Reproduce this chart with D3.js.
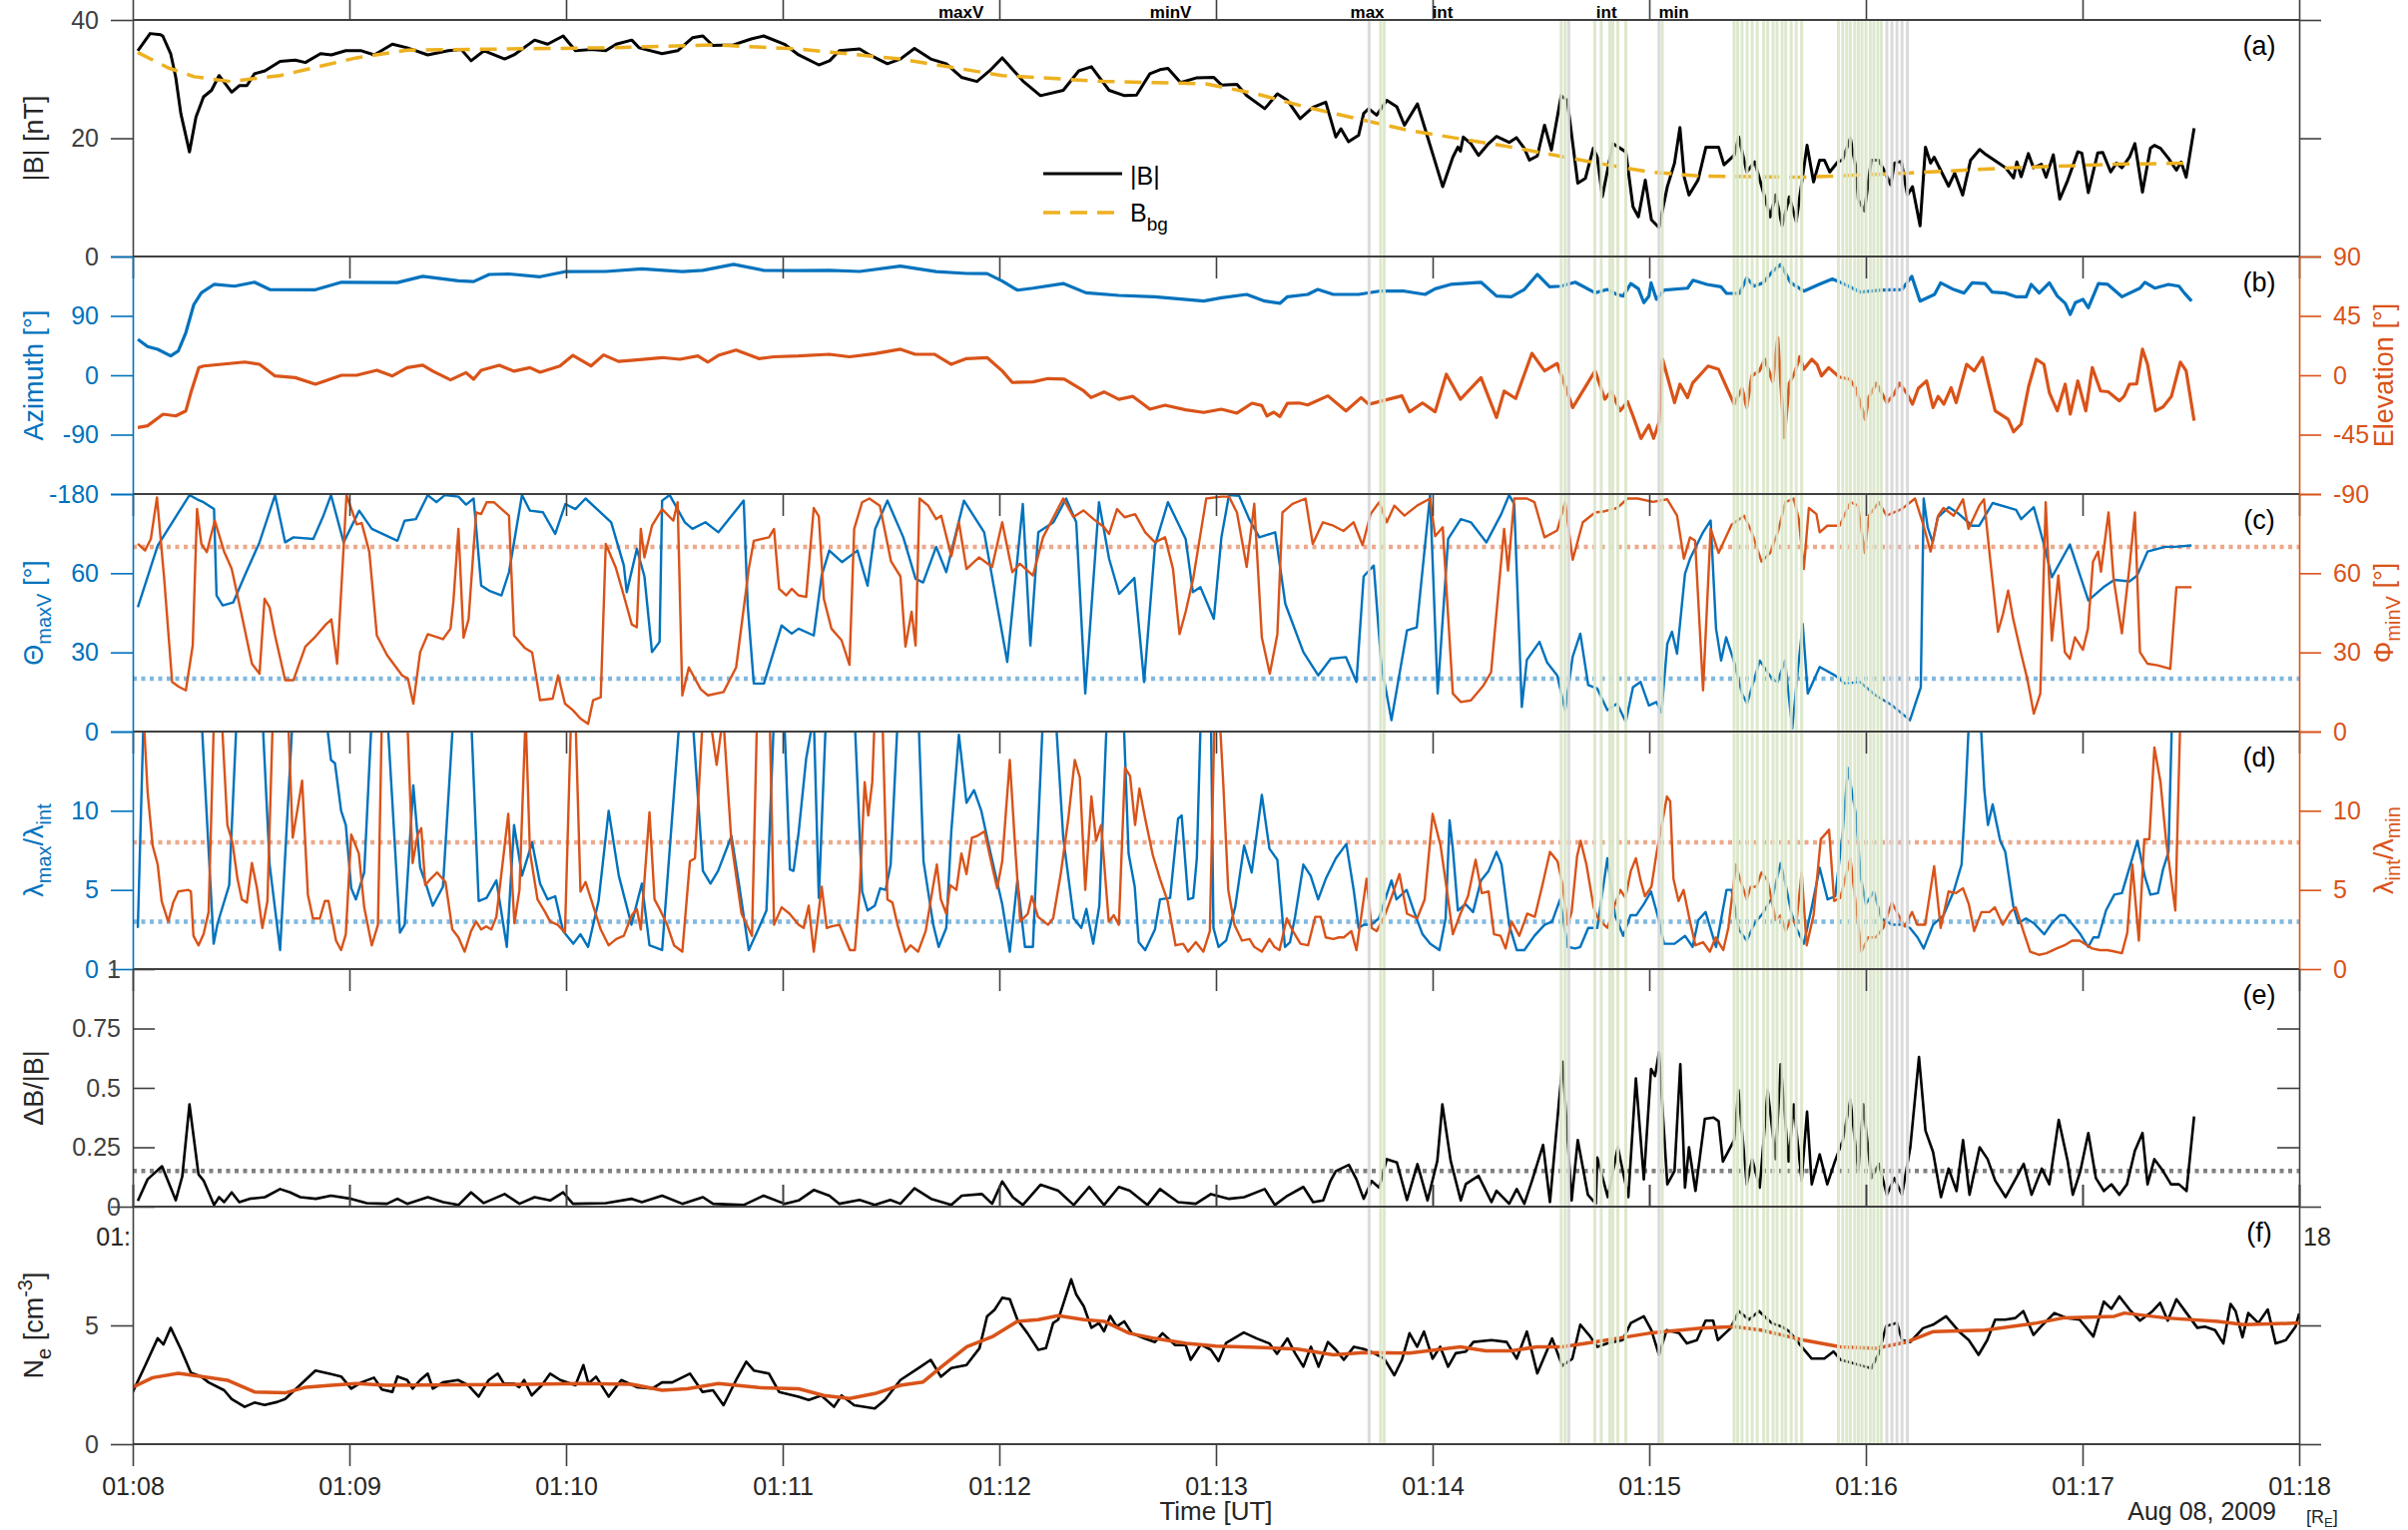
<!DOCTYPE html>
<html>
<head>
<meta charset="utf-8">
<script src="https://cdn.jsdelivr.net/npm/d3@7"></script>
<style>
  body { margin: 0; background: #fff; }
  svg { display: block; }
</style>
</head>
<body>
<div id="chart"></div>
<script>
// ---- data: [seconds after 01:08:00 UT, value] ----
const magB = [[1.4,34.8],[4.8,37.7],[7.7,37.5],[8.3,37.3],[10.5,34.3],[11.9,30.3],[13.3,24.2],[15.7,17.7],[17.5,23.6],[19.6,27],[21.8,28.1],[23.9,30.6],[27.4,27.8],[29.5,28.9],[31.6,28.9],[33.7,30.9],[36.6,31.4],[40.8,33],[45,33.2],[47.8,32.8],[52,34.3],[55,34.1],[59,34.8],[63.3,34.8],[66.9,34.1],[71.9,35.9],[76,35.3],[81.7,34.1],[87.4,34.8],[91,35],[93.7,33.1],[97.3,34.8],[103,33.4],[105.6,34.1],[111.3,36.6],[114.9,35.9],[119.2,37.3],[122.6,34.8],[127,35],[131,34.8],[133.9,35.9],[138.2,36.6],[140.2,35.3],[146.6,34.3],[150.9,34.8],[155,37],[157.9,37.3],[160.6,35.7],[166.4,35.8],[171.3,36.8],[174.7,37.3],[180.5,35.9],[184.4,34.1],[190,32.4],[193,33.1],[195.7,34.8],[201.3,35.1],[204,34.1],[209,32.6],[212.6,33.4],[216.5,35.2],[221,33.4],[225.3,32.6],[229.5,30.3],[233.8,29.6],[237.3,31.4],[240.8,33.6],[246.5,29.7],[251.4,27.2],[257.7,28.1],[262,31.4],[265.5,32.1],[270.4,28.1],[274.7,27.2],[278,27.3],[281.7,30.9],[284.5,31.6],[286.7,31.8],[290.2,29.4],[294.5,30.2],[299.4,30.3],[301.5,29],[305.8,29.1],[308.5,27.2],[313.5,25],[317,27.5],[319.8,26.4],[323.3,23.3],[326.8,25.2],[330.4,26.1],[333.2,20.2],[334.6,21.6],[336.7,19.4],[339.5,20.5],[340.9,24.2],[342.3,25],[344.5,23.9],[347.3,26.4],[350.1,25.3],[352.2,22.2],[355.8,25.8],[357.9,21.6],[360,17.4],[362.8,11.8],[365.6,16.8],[367,18.5],[367.7,17.8],[368.5,20.2],[370.6,19.1],[372.7,17.1],[375.5,19.1],[377.7,20.3],[381.2,19.3],[383.2,20.1],[385.4,18.3],[386.8,16.3],[389,17],[391,22.2],[392.9,18],[395.6,27.2],[397.3,26.4],[400.2,12.4],[402.3,13.2],[404.5,18.3],[405.6,16.8],[407,10.1],[409.9,19.1],[413.5,17.7],[415.5,8.4],[417,6.7],[418.9,12.9],[420.6,6.2],[422.7,4.9],[425,11.8],[427,15.8],[428.5,21.8],[429.7,13.4],[431,10.4],[433.5,12.9],[435.7,18.5],[439.2,18.5],[440.7,15.5],[443.5,17.1],[444.8,20.2],[447,14.3],[449.2,16],[451.4,11.3],[453.5,6.7],[455,10.4],[456.8,5.2],[458.8,10.1],[460.7,5.9],[463.7,18.8],[465.5,12.6],[467.2,16.3],[468.5,16.3],[470,14.3],[472.2,16],[473.5,16.3],[475.7,20],[477.2,15.1],[477.9,9.6],[479.6,7.7],[481.5,16.3],[483.5,16.3],[485,14.6],[486.9,12.1],[487.9,15.8],[489.8,16.1],[491.5,10.4],[492.9,11.8],[495,5.2],[496.5,18.5],[497.9,15.8],[498.9,16.8],[502.9,11.9],[504.6,14.1],[506.8,10.4],[509,16.3],[511.5,18.1],[512.9,17.4],[516,16.1],[518.7,15],[520.9,13.3],[521.8,16],[523,13.5],[525,17.4],[526.4,15],[528.6,15.6],[529.9,13.4],[531.9,17.2],[533.7,9.7],[535.9,12.9],[538.7,17.7],[539.8,17.5],[541.6,10.8],[544.2,17.5],[545.6,17.6],[547.8,14.3],[549.4,15.8],[550.9,15],[553,16.8],[554.5,19.1],[556.6,10.9],[558.8,18.3],[559.9,18.8],[561.6,18.3],[563.8,16.6],[566,14.6],[567.3,16],[568.7,13.4],[570.9,21.7]];

const bgB = [[1.4,34.5],[9.8,31.9],[17,30.4],[27,29.6],[40.8,30.6],[62,33.6],[76,34.9],[104,35.1],[132,35.3],[160.7,35.8],[184.4,35.1],[212.6,33.4],[240.8,30.6],[269,29.6],[297.2,29.2],[311.3,27.5],[325.4,25.2],[353.6,21.3],[381.8,18.5],[405.6,15.8],[420,14.3],[434.2,13.6],[462.8,13.4],[491.5,14.1],[520,15],[548.8,15.6],[570.2,15.8]];

const azimuth = [[1.4,54.5],[4.1,43.4],[6.9,39.3],[10.5,29.2],[12.6,36.8],[14.7,64.6],[16.9,107],[19,125],[22.5,137.7],[28.2,135],[33.7,141],[37.9,130],[50.6,129.6],[57.8,141],[73.3,140.5],[80.3,150],[90.2,143],[94.4,142],[98.7,152.8],[104.2,153.5],[112.8,149.3],[119.7,157],[131,157.3],[141,161.4],[152.2,157],[157.9,159],[166.4,168],[174.7,159],[184.4,158.5],[192.9,159],[201.3,157.3],[212.6,165.4],[222.5,157],[230.9,154.3],[236.6,154],[240.8,142.7],[245,129],[249.3,132],[257.7,139],[264,125],[273.1,121],[283,119],[296.6,112.4],[301.5,117.4],[308.5,122.5],[313.5,112.4],[317.7,109],[319.8,119],[325.4,122.5],[328.2,130],[332.5,122.5],[339.5,122.5],[345.2,127.5],[352.2,127.5],[357.9,122.5],[360.7,131],[365,137.7],[373.4,141],[377.7,120],[381.8,119],[385.4,130],[389,152.8],[392.4,134],[395.5,135],[399.5,141],[405,125],[408.4,130],[411,122.5],[412.8,120],[414.9,139],[417,131],[418.5,110],[419.9,120],[420.5,140],[422,115],[424.1,129],[430.6,132],[432.1,144],[436,137.7],[439.9,134],[441.4,124],[445,124],[447,147.5],[449,135],[451.5,140],[454.2,157.7],[456.4,168],[459.2,140],[462.8,127.5],[467,137.7],[470.7,146],[473.7,139],[478.5,126],[484.3,129],[490,130],[492.7,150],[495,112.4],[499,122.5],[500.7,140],[504.3,130],[507.2,124.6],[509.4,140],[513,139],[515,126],[518.6,124.6],[521.5,119],[524.4,119],[525.8,137.7],[528,124.6],[530.8,140],[533,120],[535.2,109],[536.6,92.3],[538,110],[540.1,115],[541.6,102.4],[544.4,139],[547,137.7],[550.9,119],[555.9,132],[557.3,141],[560,132],[563.8,137.7],[566.7,135],[568.2,124.6],[570.2,112.4]];

const elevation = [[1.4,-39.6],[4.1,-38.3],[8.4,-29.5],[11.9,-30.8],[14.7,-27],[16.1,-13.1],[18.3,5.8],[19.6,7],[31,10],[35.1,8.3],[39.4,-0.5],[45,-1.8],[50.6,-6.8],[57.8,0],[62,0],[67.6,3.8],[71.9,-0.5],[76,5.8],[80.3,7.6],[83.1,3.1],[88,-3.5],[92.3,2],[94.4,-3],[96.5,3.8],[101.5,7.6],[105.6,3.1],[110,5.8],[112.8,2.3],[118.3,7],[121.9,15.1],[126.9,7],[130.4,15.4],[134.5,10.5],[139.6,11.6],[146.6,13.4],[151.5,12.1],[156.5,14.6],[159.3,10],[162.2,15.1],[167.1,19.1],[173.4,12.6],[177.5,14],[184.4,14.6],[192.9,15.9],[198.5,14],[205.5,16.4],[212.6,19.7],[216.7,15.9],[222,15.9],[226.7,8.3],[230.9,12.6],[236.6,13.4],[240.8,3.3],[243.6,-5.5],[249.3,-5],[253.5,-2.5],[258,-3],[263.4,-11.9],[265.4,-16.9],[269,-12.6],[273.1,-18.2],[277,-16],[281.7,-25.7],[285.9,-22.7],[291.6,-26.2],[296.6,-28.2],[301.5,-25.7],[305.8,-28.7],[310,-21.2],[312.7,-23],[314.1,-30.8],[316,-28],[317.7,-31.3],[319.8,-21.2],[323,-21],[325.4,-22.5],[331,-15.6],[336,-27],[340.2,-16.9],[342.3,-22],[351.5,-15.6],[353.6,-27.7],[357.2,-21],[360.7,-27.7],[363.8,0.8],[367.7,-18.2],[373.4,-1.8],[377.7,-32],[379.8,-12],[383,-17.6],[387.5,16.6],[391,3.3],[394.5,9],[398.8,-24.5],[405,3.3],[407.7,-18.2],[409.5,-12],[411.9,-27],[414,-20],[415.5,-30.8],[417.7,-47.9],[419.9,-37.8],[421.2,-47.9],[422.7,-35.8],[423.7,12.1],[427,-20.7],[428.5,-6.8],[430.6,-16.9],[432,-6],[436.3,7],[439.2,4.5],[443.5,-21.9],[445.7,-10],[447,-24.5],[448.4,-0.5],[450.5,3.3],[452,12.1],[454.2,-5],[455.6,28.5],[457.4,-47.1],[458.8,-6],[460.2,1.3],[461.7,14.1],[462.8,4.5],[465,12.1],[466.5,8],[467.7,-0.5],[469.7,5.8],[472.6,-1.3],[475.5,-3],[477.2,-10],[479.8,-33.3],[480.8,-16.9],[482.9,-6],[485.8,-20.7],[487.8,-14.4],[489.3,-6],[491.3,-13.7],[492.9,-21.9],[494.5,-10],[496.8,-4.3],[498.6,-24.5],[500,-16],[501.6,-21.9],[503.6,-9.4],[505,-20.7],[507.9,8.3],[510,3.3],[512.3,13.4],[515.8,-27],[519.4,-33.3],[520.9,-42.9],[523,-37],[525.1,-8.1],[527.2,12.1],[529.3,8.3],[530.8,-13.1],[533,-27],[535.2,-6.8],[536.6,-29.5],[538.7,-4.3],[540.9,-27],[542.7,5.8],[545,-11.9],[547.1,-12.5],[550.2,-19.4],[551.5,-16],[553,-6.8],[555,-6.5],[556.6,19.7],[558,8.3],[560.2,-27],[562.3,-24],[564.6,-16.1],[567.1,10],[568.7,3.3],[570.9,-34.5]];

const thetaMaxV = [[1.4,47.1],[6.9,70.5],[15.7,89.6],[17.8,88],[19.6,86.9],[22.5,84.3],[23.2,51.6],[24.9,47.8],[27.8,48.9],[31,59.1],[35.1,71.7],[39.4,89.6],[42.2,71.7],[44.5,73.6],[50,73],[52.8,81.8],[54.9,89.6],[58.4,71.7],[62.7,83.7],[66.2,76.8],[73.3,72.3],[75.3,79.9],[78.4,80.5],[81.7,89.6],[84.1,86.9],[86.4,89.6],[90.2,89],[92.3,86],[94.4,88.3],[96.5,55.3],[98.7,53.4],[102.1,51.6],[104.2,60.4],[107.8,89.6],[110,83.7],[113.6,83.1],[117,74.9],[119.8,86.2],[122.6,84.3],[125.4,88.3],[132.5,79.3],[136,62.9],[136.8,52.8],[139.6,69.2],[141.7,58.8],[143.8,30.1],[145.9,34],[146.6,87.5],[148.7,89.6],[152.9,79.3],[155,76.8],[158.6,79.3],[162.2,75.5],[169.2,87.5],[170.3,47.8],[172,18.2],[174.8,18.2],[179.7,40.2],[182.5,37.1],[184.4,39],[188.6,36.4],[190.8,59.1],[192.9,68.6],[196.4,64.2],[200.7,68.6],[203.5,55.3],[205.6,76.8],[209,87.5],[213.4,73.6],[216.8,57.9],[218.9,56.5],[222.5,70],[225.3,60.4],[230.2,87.5],[235.8,75.5],[242.2,26.4],[246.5,86.2],[248.6,32.6],[250.8,75.5],[255,79.3],[258.5,88.3],[261.3,79.3],[263.8,14.4],[267.6,86.9],[270.4,65.5],[273.2,52.2],[277.4,58.2],[280.1,18.8],[283.1,70.5],[286.7,86.9],[291.6,73],[293.6,52.8],[295.7,54.7],[299.4,42.7],[301.5,73.6],[303.6,89.6],[306.4,89.3],[309.2,80.5],[312,73.6],[316.4,75.5],[319.2,48.4],[324.2,30.1],[328.3,21.3],[331.8,27.6],[336,28.2],[338.9,18.8],[340.9,58.8],[343.7,62.9],[345.8,25.1],[348.6,4.3],[352.9,38.3],[355.6,39.5],[359.3,89.6],[361.4,14.4],[364.3,73],[367.8,80.5],[370.6,79.3],[374.9,71.7],[379,82.4],[381.2,89.6],[382.6,86.2],[384.7,9.3],[386.1,27.2],[389.6,34],[391.7,26.2],[394.5,21.3],[396.7,8.1],[398.8,28.4],[400.9,37.1],[403.1,17.6],[405.6,16.3],[408.4,8.1],[411.1,10.6],[413.5,3.7],[415.5,16.8],[417.6,18.8],[419.9,9.9],[422,11.2],[423.4,7.2],[425,33.3],[426.3,37.8],[427.7,29.5],[429.9,59.8],[431.3,65.5],[434.9,75.5],[437,80],[438.5,39],[439.9,26.9],[441.3,35.7],[443.4,26.9],[445.7,14.4],[447.1,10.6],[450.6,26.9],[454,20],[455.5,18.8],[457.6,26.9],[459.6,1.1],[461.2,23.9],[462.5,40.8],[463.9,14.4],[467.2,24.5],[471.4,21.3],[474.2,18.2],[478.4,18.8],[482.6,13.8],[487.3,9.9],[492.2,4.3],[495.2,16.8],[496,88.3],[497.1,77.4],[498.5,71.7],[499.9,81.2],[503,85],[505.8,82.4],[509.4,78],[511.4,78],[515.1,86.6],[521.6,84],[523,80.5],[526.5,85],[529.4,70.5],[531.5,58.5],[536.5,70.9],[541.6,49.7],[545.8,54.7],[548.8,57.5],[553,56.9],[555.1,59.1],[558,68.2],[562.9,70],[565.7,70],[570.2,70.5]];

const phiMinV = [[1.4,71.1],[3.4,68.6],[5,73],[6.7,88.7],[8.7,57.9],[10.9,18.8],[12.7,17],[14.7,15.6],[16.6,32.6],[17.8,84.3],[19,71.1],[20.5,68],[22.7,79.9],[25.3,68.2],[27.4,61.6],[30.2,44],[33,25.7],[35.1,21.9],[36.5,50.3],[37.9,47],[39.4,36.4],[42.2,19.5],[44.5,19.5],[47.8,32.2],[50.6,36],[53.5,40.6],[55,42.5],[56.6,25.7],[59.2,89.6],[62,78.5],[63.4,79],[65.5,68.2],[67.6,36.4],[70.4,29],[74.6,21.3],[76.2,20],[77.7,10.6],[79.6,30.1],[81.7,36.9],[85.9,35],[88,39],[88.8,49.3],[90.2,76.8],[91.6,35.6],[93,42.5],[95.1,83],[96.5,82.4],[98,86.9],[100,86.9],[104.2,81.8],[105.6,36.4],[108.5,31.8],[110.6,30],[112.8,11.9],[116.3,12.5],[117.8,21.3],[119.7,10.6],[121.9,8.1],[124,4.9],[126.1,2.9],[127.5,11.9],[129.6,13],[131,71.1],[133.8,62],[135.9,52],[138.2,40.6],[139.6,39.5],[140.7,76.8],[141.7,66],[143.8,78],[146.6,84.3],[149.7,79.9],[150.9,86.9],[152.2,13.7],[154,24.3],[157.3,16],[159.3,13.7],[163.6,15],[167.1,24.3],[170.6,61.6],[172,72.3],[176.2,73.6],[177.6,76.8],[179,54.1],[181,51.6],[182.5,54.1],[184.4,51.6],[186.5,51],[188.6,84.7],[190,81.5],[191.4,50.3],[193.5,39],[196.3,34.6],[198.5,25.3],[199.8,76.8],[202,86.9],[204,88.3],[206.9,85.6],[210,64.5],[212.6,58.8],[214,32.2],[215.7,45.4],[216.8,32.6],[217.9,88.3],[220.3,85.6],[222.5,80.5],[223.9,81.8],[226.7,66.4],[228.8,79.3],[230.9,61.6],[234.4,66],[238,62.4],[240.8,79.3],[243.6,60.4],[245.7,63.6],[249.3,59.1],[252.1,73.6],[257.7,88.3],[260.5,81.3],[263.3,83.8],[266.1,80.5],[269,77.4],[270.4,74.9],[272.6,84.3],[274.7,81.2],[277.6,82.4],[280.4,75.5],[283.1,71.7],[285.9,73.6],[288.1,61.6],[289.9,36.9],[291.6,45.4],[293.7,58],[297.3,88.3],[301.5,89],[303.6,89],[305.8,83],[308.5,62.4],[310.6,86.3],[312.7,35.6],[314.9,21.9],[317,36.9],[318.4,83],[321.2,86.3],[324.8,88.3],[326.8,71.1],[329.6,79.3],[332.5,78],[335.3,76],[338.1,79.3],[340.6,70.6],[342.8,82.4],[345.2,86.9],[347.3,79.3],[349.4,85.6],[352.2,81.8],[355.7,85.6],[359.3,88.3],[360.7,74],[362.8,77.4],[365.6,14.4],[367.8,11.2],[370.6,11.8],[374.1,17.5],[376.2,22.5],[379.8,76.8],[380.9,61],[382.6,88.3],[386.1,88.3],[388.2,86.9],[391,73.6],[394.5,76.2],[396.7,86.9],[398.8,65.1],[401.6,79.3],[405,83],[407.7,83.5],[411.1,84.7],[414,88.3],[416.8,88.3],[421,87],[425,88],[427.7,81.8],[429.6,65.5],[431.3,73.6],[432.7,72.3],[434.9,15.6],[437,76.8],[439.2,67.7],[442.8,78.4],[446.3,81.8],[448.4,75.5],[451.1,64.4],[453.5,67.7],[455.6,75.5],[457.7,86.9],[460,88.3],[461.4,80.5],[462.8,61.6],[464.2,84.7],[466.3,82.4],[467.2,75.5],[469.3,78],[472.7,78],[475.7,86.9],[477.8,85.6],[479.7,67.7],[480.8,81.8],[483.6,86.9],[485.7,81.8],[489.9,84.3],[493.6,88.3],[495.7,79.3],[497.9,68.2],[500,81.8],[501.5,84.7],[504.3,81.8],[506.9,88],[508.4,76.8],[511.4,85.6],[512.7,88],[514.4,65.5],[516.6,37.8],[518,44.7],[519.4,53.4],[520.8,42.6],[523,29.5],[524.7,20],[526.5,6.8],[528.3,14.4],[529.8,86.9],[531.5,34.5],[533.3,59.1],[535.1,30.1],[536.5,27.6],[537.9,35.7],[540.1,31],[541.5,39],[542.9,64.4],[544.3,68.2],[545.1,60.6],[547.2,83],[548.6,57.9],[550.9,37.2],[553,62.4],[554.5,83],[555.9,30.1],[558,25.7],[560.8,25.1],[564.3,23.8],[566,54.7],[567.4,54.7],[570.2,54.7]];

// ratios above the 15 axis limit are written as 16 (they leave the panel)
const ratioMaxInt = [[1.4,2.6],[3,16],[19,16],[22.4,1.6],[23.5,2.9],[26.7,5.3],[28.8,16],[35.9,16],[37.9,6.6],[40.8,1.2],[44.3,16],[53.5,16],[54.9,13.2],[56,13],[57.7,10],[59,9.1],[60.5,5.1],[61.8,4.4],[64.1,6.1],[66.2,16],[70.5,16],[74,2.3],[75.3,2.8],[77.7,11.6],[79.6,6.4],[81,5.5],[83.1,4],[85.9,5.2],[88.8,16],[93.7,16],[95.8,4.3],[98,4.5],[100.7,5.6],[103.6,1.4],[105.6,9.1],[107.8,5.9],[110.6,8],[112.8,5.4],[114.9,4.4],[117,4.6],[119.2,2.4],[122,1.6],[124,2.2],[126.1,1.4],[129,4.3],[131.8,10],[134.6,5.9],[138.1,2.8],[141,5.4],[143.1,1.5],[146.6,1.2],[151.5,16],[155,16],[157.9,6.2],[160,5.4],[162.1,6.2],[165.8,8.4],[168,5.2],[170.6,1.2],[173.4,2.6],[175.5,3.7],[177.6,16],[180.4,16],[182,6.3],[183,6.2],[184.4,8.6],[186.5,13.3],[188.6,16],[190,4.5],[192,16],[199.9,16],[202,4.9],[203.5,3.7],[205.5,4],[207,5.1],[208.5,5],[209.9,6.6],[211.9,16],[217.6,16],[219,6.8],[221.7,2.8],[223.2,1.4],[225.3,2.6],[226.7,8.7],[228.8,14.8],[230.9,10.5],[233,11.3],[235,10],[237.1,7.8],[240.8,4.1],[242.9,1.1],[245,5.6],[247.1,1.4],[249.3,1.4],[252.1,16],[255.6,16],[257.7,8.3],[260.6,3.2],[262.7,2.6],[264.1,3.8],[266,1.6],[267.7,4],[269.8,16],[274.4,16],[275.8,7.3],[277.5,5.2],[278.6,1.7],[280.4,1.2],[283.1,2.5],[284.5,4.4],[287.3,4.5],[289.5,9.5],[290.5,9.7],[292.3,4.4],[293.7,4.5],[294.7,7],[295.8,16],[298.6,16],[299.3,2.6],[300.7,1.4],[302.8,1.8],[305.3,3.9],[307.8,7.8],[309.9,6.1],[312.7,11],[314.8,7.6],[317,6.9],[319.1,1.4],[320.5,1.7],[321.9,3.3],[324.2,6.6],[326.2,5.9],[328.3,4.4],[330.4,5.7],[333.2,7],[336.1,7.9],[338.2,4.9],[339.5,2.6],[341,2.8],[343,2.8],[345.1,3.2],[348.6,5.6],[350,4.4],[352.8,5],[354.9,3.6],[357.2,2.2],[359.3,1.6],[361.9,1.2],[363.6,3.2],[364.7,9.4],[365.6,7.6],[367,3.7],[369.1,4.1],[371.2,3.6],[373.4,5.6],[375.5,6.2],[377.7,7.4],[379.1,6.6],[381.2,2.8],[383.3,1.2],[385.4,1.2],[388.2,2.1],[391,2.8],[393.1,3],[395.3,4.4],[397.4,1.4],[399.5,1.3],[400.9,1.4],[403.1,2.6],[405.6,2.6],[408.4,7],[410.5,3.4],[412.8,2.1],[414.8,3.4],[416.4,3.4],[418.5,4.1],[420.5,4.9],[422.3,3.4],[424.1,1.6],[427,1.6],[429.9,2.1],[432,1.4],[433.6,3.1],[435.6,3.6],[438.5,1.4],[441.4,5],[442.8,5],[444.8,2.5],[447,1.8],[449.2,2.9],[451.4,3.5],[454.2,4.6],[456.4,6.7],[457.8,5.3],[459.3,3.6],[460.7,2.6],[462.8,1.6],[465,3.9],[467.2,6.4],[469.4,4.4],[471.5,4.6],[473.6,8.7],[475,12.7],[477.2,9.8],[478.6,5.8],[480,4.1],[482.2,4.9],[484.3,3.2],[487.2,2.8],[490,2.8],[492.2,2.6],[494.3,2],[496,1.3],[498.6,2.8],[501.5,3.4],[504.3,4.9],[506.5,6.6],[507.5,10.6],[508.6,16],[511.7,16],[512.8,11.3],[513.8,9.1],[515.1,10.4],[517.2,8.1],[518.6,7.4],[520.8,4],[522.2,2.9],[524.3,3.2],[526.5,2.9],[529.4,2.2],[531.5,2.9],[533.7,3.4],[535.1,3.4],[537.3,2.8],[539.4,2.2],[541.6,1.4],[543,2],[544.4,2],[546.5,3.7],[548.8,4.7],[550.9,4.8],[553,6.4],[555.2,8.1],[557.3,5.8],[558.8,4.7],[560.9,4.8],[562.3,6.3],[563.8,7.4],[564.8,16]];

const ratioIntMin = [[3,16],[4.1,11.2],[5.5,7.8],[6.9,6.6],[8,4.3],[9.8,3],[11.2,4.2],[12.6,4.9],[15.4,5],[16.1,4.9],[16.8,2.1],[18.2,1.5],[19.6,2.2],[21,3.6],[22.5,16],[24.6,16],[26.2,9.1],[27.6,8],[29,5.7],[30.2,4.4],[31.6,4.2],[33,6.7],[34.4,5.1],[35.9,2.6],[37.3,4.3],[38.8,16],[43,16],[44.3,8.3],[45.7,10.2],[46.9,11.9],[48.5,4.7],[49.9,3.2],[51.8,3.2],[53.2,4.3],[54.2,4.3],[56.3,1.8],[57.7,1.2],[59,2.2],[60.5,8.5],[62.6,7.3],[64.1,3.9],[66.2,1.5],[67.9,2.8],[69,16],[76,16],[77.5,6.7],[78.9,8.5],[79.9,8.9],[81,5.3],[82.5,5.7],[84.3,6.1],[86.6,5.5],[88.5,2.5],[90.2,2],[91.9,1.1],[93.7,2.4],[95.1,3],[96.5,2.5],[97.9,2.7],[99.3,2.5],[100.7,3.3],[103,7.8],[104,9.8],[105.7,2.9],[107.1,5],[108.8,16],[110,7.4],[112.1,4.4],[114.2,3.6],[115.6,3],[117.7,2.8],[119.7,2.3],[121.4,16],[122.6,16],[124,4.9],[125.4,5.5],[127.5,4],[129.6,2.5],[131.8,1.5],[133.9,1.9],[136,2.1],[138.2,3.4],[139.6,3.8],[140.7,2.5],[143.1,9.9],[144.5,4.4],[145.9,3.8],[148,2.8],[149.9,1.5],[152.2,1.1],[154.3,6.8],[155.7,7],[157.9,16],[159.8,16],[161.7,12.9],[163.5,16],[165.8,8],[168.6,3.5],[171.5,2.1],[172.9,16],[176.4,16],[177.6,2.8],[179.7,3.9],[181.9,3.5],[184.4,2.8],[185.8,2.6],[187.2,4],[188.6,1.1],[190.8,5.2],[192.2,2.6],[193.6,2.7],[195.7,2.8],[198.6,1.2],[200,1.2],[201.3,4.9],[202.7,11.8],[203.7,9.7],[204.8,11.8],[205.5,16],[207.6,16],[209,4.4],[210.4,4.2],[211.8,2.8],[214,1.1],[215.4,1.5],[217.5,1.1],[219.6,2.4],[221.7,5.3],[222.7,6.6],[223.8,4.4],[225.3,3.5],[226.4,5.3],[228.1,5],[229.5,7.3],[230.9,6],[232.4,8.3],[233.8,8.4],[235.9,8.7],[238,6.5],[239.4,5.1],[240.8,6.8],[242.9,13.2],[244.3,8],[245.8,3],[247.9,3.5],[249,4.6],[250.7,3.3],[253.5,2.8],[254.9,3.2],[257,6],[259.1,9.5],[260.9,13.2],[262.3,12.1],[263.8,5],[265.5,10.9],[266.8,8.1],[268.2,9.1],[270.3,3],[271.7,3.4],[273.1,2.8],[274.8,12.7],[276.2,12.2],[277.6,9.1],[278.8,11.4],[280.4,9.5],[282.5,7.2],[284.5,5.7],[286.6,4.3],[288.8,1.5],[290.9,1.6],[292.3,1.1],[294.4,1.7],[296.5,1.1],[298.3,2.4],[299.6,16],[301,16],[302,11.8],[303.4,5],[305.1,2.8],[307.2,1.8],[309.3,1.9],[310.6,1.4],[312.7,1.1],[314.8,1.9],[316.2,1.4],[317.6,1.2],[319.6,3.2],[321.3,2.4],[323.4,1.6],[325.5,1.5],[327.5,3.3],[329,3.3],[330.4,2],[332.5,1.9],[334,2],[335.4,2],[337.5,2.4],[338.9,1.2],[341.7,5.7],[343.1,2.6],[344.5,2.4],[346.6,3.3],[348.7,4.6],[350.8,6],[352.9,3.5],[355.7,3.2],[357.8,4.4],[360,9.8],[362.2,7.8],[364.3,4.4],[365.6,2.2],[367.7,3.5],[369.8,4.6],[371.9,6.9],[373.6,4.8],[375.5,4.9],[377,2.2],[378.8,2.1],[380.2,1.3],[381.9,3],[384,2.1],[386.2,3.5],[388.3,3.3],[390.4,5.3],[392.5,7.4],[394.6,6.8],[396,5.3],[397.4,2.8],[398.5,3.6],[400,7.1],[401,8.1],[402.6,6.6],[404.6,3.9],[405.6,3.3],[407,2.9],[408.4,2.6],[410.5,4.1],[412,5],[413.4,4.5],[414.9,6.2],[416.3,7],[417.6,5.6],[418.8,4.6],[420.6,5.2],[422,7.3],[423.4,9],[424.9,10.9],[425.8,10.6],[426.7,5.7],[428.1,4.3],[429.5,5],[431.3,3],[432.8,1.5],[434.9,1.7],[436.8,1.1],[438.4,2],[440.5,1.2],[441.9,2.6],[444,6.6],[445,5.8],[447,4.4],[448.1,5.2],[449.7,5.2],[451.1,6.1],[452.8,5.6],[455,3.1],[456.4,3.4],[457.8,2.4],[459.3,3.2],[460.7,2.8],[462.2,6.1],[463.6,1.5],[465.5,3.4],[467.5,8.2],[469.8,8.8],[471.2,4.3],[472.9,4.5],[475.7,7],[477.1,4.3],[478.8,1.1],[480.6,2],[482.7,2],[484.8,2.6],[487.2,4.2],[488.6,3.6],[490.7,2.7],[492.8,3.6],[494.2,2.8],[496.4,2.8],[498.9,6.5],[500.7,2.6],[502.9,4.9],[505,4.8],[506.9,5.1],[508.5,4.1],[510,2.4],[512,3.6],[514.2,3.6],[515.7,3.9],[517.9,2.8],[520,3.6],[521.5,3.9],[523.6,2.4],[525.5,1.1],[527.9,0.9],[530,1],[532.8,1.3],[535,1.5],[537.1,1.8],[539.2,1.8],[541.3,1.5],[542.7,1.3],[544.8,1.2],[546.9,1.2],[549,1.1],[550.9,1],[552.4,2.3],[553.8,6.6],[555.6,1.8],[557.1,8.2],[558.5,8.2],[559.9,14],[561.6,11.8],[563.1,8.2],[565.7,3.7],[567.1,16]];

const dBratio = [[1.4,0.024],[4.1,0.115],[8.1,0.17],[11.9,0.027],[13.7,0.127],[15.7,0.43],[18.2,0.136],[19.6,0.11],[22.5,0.007],[23.9,0.04],[25.3,0.019],[27.4,0.06],[29.5,0.019],[32.3,0.033],[36.6,0.04],[40.8,0.074],[43.6,0.06],[46.4,0.04],[50.7,0.033],[54.9,0.046],[60.5,0.033],[64.8,0.015],[70.4,0.012],[73.3,0.033],[76,0.012],[81.7,0.04],[86,0.019],[90.2,0.007],[93.7,0.06],[97.2,0.015],[103,0.053],[107.1,0.012],[111.3,0.04],[115.6,0.026],[119.2,0.06],[121.9,0.012],[131,0.015],[138.2,0.033],[141,0.019],[146.6,0.046],[152.2,0.012],[157.9,0.04],[160.7,0.012],[169.2,0.007],[174.7,0.046],[180.5,0.012],[184.4,0.026],[188.6,0.07],[192.9,0.046],[195.7,0.012],[201.3,0.028],[205.5,0.007],[209.8,0.028],[212.6,0.012],[216.5,0.077],[221.1,0.033],[226.7,0.007],[229.6,0.046],[235.2,0.053],[238,0.012],[240.8,0.106],[243.7,0.04],[246.5,0.007],[251.4,0.092],[256.3,0.067],[260.6,0.007],[264.9,0.083],[269,0.007],[273.1,0.083],[276.1,0.067],[281,0.007],[284.5,0.074],[289.5,0.019],[294.4,0.012],[298.6,0.053],[303.6,0.033],[307.8,0.04],[313.5,0.074],[316.3,0.007],[319.8,0.046],[324.2,0.083],[326.9,0.019],[329.7,0.026],[331.7,0.108],[333.2,0.15],[336.8,0.176],[338.9,0.115],[340.9,0.033],[343.1,0.108],[345.2,0.08],[347.3,0.2],[350.1,0.186],[352.9,0.028],[355.8,0.179],[358.6,0.026],[361.3,0.193],[362.7,0.43],[365,0.193],[367.8,0.026],[369.2,0.095],[372.7,0.13],[376.3,0.019],[377.7,0.067],[381.2,0.012],[383.3,0.074],[385.4,0.012],[387.5,0.108],[390.6,0.26],[392.5,0.019],[396,0.61],[398.5,0.026],[400.2,0.28],[403,0.05],[405.2,0.012],[405.6,0.207],[408.5,0.04],[411.3,0.25],[414.2,0.04],[416.3,0.54],[418.5,0.115],[420.5,0.58],[421.6,0.55],[422.7,0.65],[425,0.094],[427,0.15],[428.6,0.6],[429.9,0.08],[431,0.25],[432.8,0.066],[435.4,0.37],[437.8,0.375],[439.2,0.36],[440.4,0.19],[443.5,0.28],[444.7,0.49],[447,0.094],[448.5,0.2],[450.6,0.08],[452.8,0.49],[455,0.2],[456.4,0.6],[458.6,0.19],[460,0.43],[462.2,0.11],[463.7,0.4],[465,0.094],[467.2,0.22],[469.3,0.094],[471.4,0.19],[473.6,0.28],[475.7,0.45],[477.9,0.15],[479.3,0.43],[481.5,0.12],[483.6,0.18],[485.8,0.05],[487.9,0.12],[490,0.05],[492.3,0.25],[494.7,0.63],[496.5,0.32],[498.6,0.23],[500.8,0.04],[502.9,0.16],[505.1,0.066],[506.9,0.28],[508.7,0.05],[511.5,0.25],[513.7,0.2],[515.8,0.11],[518.7,0.04],[521.6,0.12],[523.7,0.18],[525.9,0.05],[528.7,0.16],[530.8,0.094],[533.4,0.365],[535.9,0.19],[537.3,0.05],[539.4,0.15],[541.6,0.31],[543.7,0.12],[545.9,0.066],[548,0.094],[550.2,0.05],[552.3,0.094],[554.5,0.235],[556.6,0.31],[558,0.094],[559.9,0.2],[562.3,0.15],[564.5,0.094],[566.7,0.094],[568.8,0.066],[570.9,0.38]];

const density = [[0,2.2],[3.4,3.3],[6.9,4.46],[8.5,4.2],[10.5,4.9],[13.3,4],[16.1,3],[18.9,2.85],[21,2.6],[25.3,2.27],[27.4,1.9],[31,1.57],[33.7,1.75],[36.5,1.65],[40.1,1.78],[42.2,1.9],[45,2.3],[47.8,2.7],[50.6,3.1],[54.9,2.95],[57.7,2.85],[60.5,2.34],[63.3,2.6],[66.8,2.8],[69,2.3],[71.9,2.2],[73.3,2.85],[76,2.7],[77.5,2.34],[79.6,2.7],[81.7,2.97],[83.1,2.34],[85.9,2.6],[90.1,2.7],[92.9,2.48],[95.8,2],[98.6,2.7],[101.1,2.97],[102.8,2.55],[105.6,2.55],[107,2.4],[108.4,2.7],[110.5,2.05],[113.3,2.48],[115.6,2.97],[118.4,2.7],[122.6,2.48],[124.8,3.33],[126.2,2.55],[128.3,2.84],[131.8,2],[135.3,2.7],[139.6,2.4],[143.8,2.34],[146.6,2.6],[149.4,2.6],[154.3,2.97],[157.8,2.2],[160.7,2.27],[163.6,1.64],[167.1,2.7],[169.9,3.47],[172,3.1],[176.2,2.97],[179,2.2],[184.4,2],[187.2,1.86],[190.7,2.05],[194.2,1.57],[196.3,2.05],[199.8,1.64],[205.5,1.5],[208.3,1.86],[212.6,2.7],[218.2,3.26],[221,3.55],[223.8,2.84],[226.7,3.2],[230.9,3.33],[234.5,4.04],[236.6,5.38],[238.7,5.66],[240.8,6.16],[242.9,6.1],[245,5.24],[247.8,4.67],[250.8,3.97],[252.9,4.04],[254.9,5.1],[256.3,5.24],[259.9,6.94],[261.3,6.3],[263.4,5.8],[265.5,4.9],[267.6,5.1],[269,4.75],[270.7,5.4],[272.5,4.95],[274.6,5.17],[276.7,4.67],[280.2,4.45],[283.1,4.3],[285.2,4.67],[288.7,4.17],[291.6,4.17],[293,3.55],[295.8,4.2],[298.6,3.97],[300.7,3.5],[302.8,4.26],[307.7,4.7],[311.3,4.45],[314.8,4.24],[316.9,3.8],[319.8,4.45],[321.9,3.83],[324.2,3.26],[326.3,4.1],[328.4,3.26],[331,4.3],[333.2,3.97],[335.4,3.55],[338.2,4.1],[341,4],[343.8,3.83],[346.6,3.6],[349.4,2.9],[351.5,3.55],[353.6,4.67],[355.7,4.1],[357.6,4.74],[360,3.6],[362.1,4.1],[364.3,3.26],[366.4,3.83],[369.2,3.9],[371.3,4.3],[376.3,4.38],[380.5,4.3],[383.3,3.6],[386.1,4.74],[389,2.98],[393.1,4.45],[395.9,3.3],[398.7,3.6],[400.9,5.03],[403.7,4.52],[405.6,4.1],[408.4,4.24],[412.6,4.38],[414.9,5.1],[418.5,5.38],[420.6,4.8],[422.7,3.76],[424.8,4.8],[428.3,4.67],[430.4,4.24],[433.2,4.38],[435.6,5.2],[437.7,5.2],[439,4.38],[442.5,4.88],[444.8,5.6],[447.6,5.24],[450.4,5.6],[453.9,5.1],[456.7,4.95],[458.8,4.74],[462.2,4.1],[465,3.6],[468.5,3.6],[471,3.9],[473,3.55],[476.5,3.4],[481.5,3.19],[483.6,3.83],[485.6,4.97],[488.6,5.1],[490,4.38],[492.3,4.3],[495.8,4.88],[498.6,5.03],[502.2,5.38],[505.8,4.74],[508.5,4.38],[511.2,3.76],[513.6,4.38],[515.8,5.24],[518.6,5.24],[521.4,5.31],[523.6,5.6],[526.4,4.6],[528.5,4.95],[532.2,5.52],[535.7,5.31],[539.2,5.24],[543,4.53],[545.9,6],[548,5.7],[550.2,6.22],[553,5.67],[555.9,5.2],[559.4,5.6],[561.5,5.95],[563.6,5.2],[566,6.1],[568.8,5.52],[571.8,4.9],[573.9,4.95],[576.7,4.8],[579,4.24],[581,5.9],[582.4,5.6],[584.3,4.5],[585.9,5.52],[588.7,5.1],[591.3,5.67],[593.5,4.24],[596.3,4.38],[599,4.95],[600,5.5]];

const densitySmooth = [[0,2.4],[5.5,2.8],[12.6,2.98],[19.6,2.84],[26.2,2.69],[33.7,2.2],[42.2,2.16],[48,2.4],[55,2.48],[62,2.55],[70,2.48],[90,2.5],[110,2.52],[124,2.55],[138.2,2.52],[146.6,2.27],[153.6,2.33],[162.2,2.55],[173.4,2.38],[184.4,2.33],[191.4,2.05],[198.5,1.92],[205.5,2.13],[212.6,2.48],[218.9,2.62],[224,3.26],[231,4.1],[238,4.52],[245,5.17],[250.8,5.24],[256.3,5.41],[263.4,5.24],[269,5.17],[276,4.67],[283.1,4.45],[291.7,4.24],[300,4.13],[311.3,4.08],[322.6,4],[332.5,3.76],[340.9,3.86],[353.6,3.83],[367.7,4.1],[374.7,3.93],[381.8,3.93],[388.9,4.1],[395.9,4.1],[405.6,4.32],[420,4.67],[434.3,4.88],[443.5,4.95],[451,4.8],[462.8,4.38],[472.9,4.1],[482.9,4.03],[491.5,4.31],[498.7,4.74],[513,4.8],[527.3,5.1],[534.5,5.31],[548.8,5.38],[551.6,5.52],[563.3,5.31],[577.5,5.17],[584.6,5.03],[600,5.1]];

// event markers (seconds after 01:08:00)
const eventsGreen = [345.6,346.6,395.6,396.7,404.9,406.7,409.1,409.9,411.3,413.5,423.6,443.5,444.5,445.7,447.1,448.5,449.9,451.7,452.8,454.3,455.4,456.8,457.8,459.3,460.7,462.2,472.4,473.6,474.7,475.7,476.9,477.9,478.9,480,481.2,482.2,483.3,484.3];
const eventsGray = [342.4,397.7,422.7,485.8,487.2,488.6,490,491.5];

// thresholds
const thetaLimit = 20, phiLimit = 70, maxIntLimit = 3, intMinLimit = 8, dBLimit = 0.15;

// labels along the top edge with their times
const topLabels = [['maxV',223.1],['minV',281.7],['max',337.2],['int',359.9],['int',405.3],['min',422.6]];

// tick values
const ticksB = [0, 20, 40];
const ticksAz = [-180, -90, 0, 90, 180], labelsAz = [-180, -90, 0, 90];
const ticksEl = [-90, -45, 0, 45, 90];
const ticksAngle = [0, 30, 60, 90], labelsAngle = [0, 30, 60];
const ticksRatio = [0, 5, 10, 15], labelsRatio = [0, 5, 10];
const ticksDB = [0, 0.25, 0.5, 0.75, 1];
const ticksNe = [0, 5, 10], labelsNe = [0, 5];

// ---- layout ----
const W = 2412, H = 1533;
const X0 = 133, X1 = 2303;
const rows = [20, 257, 495, 733, 971, 1209, 1447];
const FONT = '"Liberation Sans", Arial, Helvetica, sans-serif';
const BLUE = '#0072BD', ORANGE = '#D95319', YELLOW = '#EDB120', AX = '#404040';

const T0 = Date.UTC(2009, 7, 8, 1, 8, 0);
const at = s => new Date(T0 + s * 1000);

const svg = d3.select('#chart').append('svg')
    .attr('width', W).attr('height', H)
    .style('font-family', FONT);
svg.append('rect').attr('width', W).attr('height', H).attr('fill', '#fff');

const defs = svg.append('defs');
rows.slice(0, 6).forEach((top, i) => {
    defs.append('clipPath').attr('id', 'clip' + i).append('rect')
        .attr('x', X0).attr('y', top).attr('width', X1 - X0).attr('height', rows[i + 1] - top);
});

const x = d3.scaleUtc().domain([at(0), at(600)]).range([X0, X1]);

const yB = d3.scaleLinear().domain([0, 40]).range([rows[1], rows[0]]);
const yAz = d3.scaleLinear().domain([-180, 180]).range([rows[2], rows[1]]);
const yEl = d3.scaleLinear().domain([-90, 90]).range([rows[2], rows[1]]);
const yTh = d3.scaleLinear().domain([0, 90]).range([rows[3], rows[2]]);
const yPh = d3.scaleLinear().domain([0, 90]).range([rows[3], rows[2]]);
const yR1 = d3.scaleLinear().domain([0, 15]).range([rows[4], rows[3]]);
const yR2 = d3.scaleLinear().domain([0, 15]).range([rows[4], rows[3]]);
const yDB = d3.scaleLinear().domain([0, 1]).range([rows[5], rows[4]]);
const yNe = d3.scaleLinear().domain([0, 10]).range([rows[6], rows[5]]);

const plot = svg.append('g');

function threshold(v, y, clip, color) {
    plot.append('line')
        .attr('clip-path', 'url(#' + clip + ')')
        .attr('x1', X0).attr('x2', X1).attr('y1', y(v)).attr('y2', y(v))
        .attr('stroke', color).attr('stroke-width', 4.5).attr('stroke-dasharray', '4 4.5');
}

function series(data, y, clip, color, width, dash) {
    plot.append('path')
        .datum(data)
        .attr('clip-path', 'url(#' + clip + ')')
        .attr('fill', 'none')
        .attr('stroke', color)
        .attr('stroke-width', width)
        .attr('stroke-linejoin', 'round')
        .attr('stroke-dasharray', dash || null)
        .attr('d', d3.line().x(d => x(at(d[0]))).y(d => y(d[1])));
}

threshold(thetaLimit, yTh, 'clip2', '#7FB8DE');
threshold(phiLimit, yPh, 'clip2', '#ECA98C');
threshold(maxIntLimit, yR1, 'clip3', '#7FB8DE');
threshold(intMinLimit, yR2, 'clip3', '#ECA98C');
threshold(dBLimit, yDB, 'clip4', '#808080');

series(magB, yB, 'clip0', '#000', 3);
series(bgB, yB, 'clip0', YELLOW, 3.5, '17 10');
series(azimuth, yAz, 'clip1', BLUE, 3.2);
series(elevation, yEl, 'clip1', ORANGE, 3.2);
series(thetaMaxV, yTh, 'clip2', BLUE, 2.4);
series(phiMinV, yPh, 'clip2', ORANGE, 2.4);
series(ratioMaxInt, yR1, 'clip3', BLUE, 2.4);
series(ratioIntMin, yR2, 'clip3', ORANGE, 2.4);
series(dBratio, yDB, 'clip4', '#000', 2.6);
series(density, yNe, 'clip5', '#000', 2.6);
series(densitySmooth, yNe, 'clip5', ORANGE, 3.5);

// vertical event lines over all panels
svg.append('g').selectAll('line')
    .data(eventsGray.map(t => ({t: t, c: '#d9d9d9'})).concat(eventsGreen.map(t => ({t: t, c: '#dbe7c9'}))))
    .enter().append('line')
    .attr('x1', d => x(at(d.t))).attr('x2', d => x(at(d.t)))
    .attr('y1', rows[0]).attr('y2', rows[6])
    .attr('stroke', d => d.c).attr('stroke-width', 3).attr('opacity', 0.92);

// ---- axes ----
const fmt = d => String(d);

function yAxis(scale, side, color, ticks, labels, inward) {
    const base = side === 'left' ? d3.axisLeft(scale) : d3.axisRight(scale);
    const ax = base.tickValues(ticks)
        .tickSizeInner(inward ? -22 : 22).tickSizeOuter(0).tickPadding(12)
        .tickFormat(d => labels.includes(d) ? fmt(d) : '');
    const g = svg.append('g')
        .attr('transform', 'translate(' + (side === 'left' ? X0 : X1) + ',0)')
        .call(ax)
        .attr('font-family', FONT).attr('font-size', 25);
    g.select('.domain').attr('stroke', color).attr('stroke-width', 1.6);
    g.selectAll('.tick line').attr('stroke', color).attr('stroke-width', 1.6);
    g.selectAll('.tick text').attr('fill', color);
}

function xAxis(yPos, top, size, labels) {
    const base = top ? d3.axisTop(x) : d3.axisBottom(x);
    const ax = base.ticks(d3.utcMinute.every(1))
        .tickSizeInner(size).tickSizeOuter(0).tickPadding(11)
        .tickFormat(labels ? d3.utcFormat('%H:%M') : '');
    const g = svg.append('g')
        .attr('transform', 'translate(0,' + yPos + ')')
        .call(ax)
        .attr('font-family', FONT).attr('font-size', 25);
    g.select('.domain').remove();
    g.selectAll('.tick line').attr('stroke', AX).attr('stroke-width', 1.6);
    g.selectAll('.tick text').attr('fill', '#262626');
}

// horizontal frame lines
svg.append('g').selectAll('line').data(rows).enter().append('line')
    .attr('x1', X0).attr('x2', X1).attr('y1', d => d).attr('y2', d => d)
    .attr('stroke', AX).attr('stroke-width', 1.8);

xAxis(rows[0], true, 22, false);
xAxis(rows[1], false, 22, false);
xAxis(rows[2], false, 22, false);
xAxis(rows[3], false, 22, false);
xAxis(rows[4], false, 22, false);
xAxis(rows[5], false, -22, false);
xAxis(rows[5], true, 22, false);
xAxis(rows[6], false, 22, true);

yAxis(yB, 'left', AX, ticksB, ticksB, false);
yAxis(yB, 'right', AX, ticksB, [], false);
yAxis(yAz, 'left', BLUE, ticksAz, labelsAz, false);
yAxis(yEl, 'right', ORANGE, ticksEl, ticksEl, false);
yAxis(yTh, 'left', BLUE, ticksAngle, labelsAngle, false);
yAxis(yPh, 'right', ORANGE, ticksAngle, labelsAngle, false);
yAxis(yR1, 'left', BLUE, ticksRatio, labelsRatio, false);
yAxis(yR2, 'right', ORANGE, ticksRatio, labelsRatio, false);
yAxis(yDB, 'left', AX, ticksDB, ticksDB, true);
yAxis(yDB, 'right', AX, ticksDB.slice(1, 4), [], true);
yAxis(yNe, 'left', AX, ticksNe, labelsNe, false);
yAxis(yNe, 'right', AX, ticksNe, [], false);

// ---- texts ----
function vlabel(xp, yc, color, parts) {
    const t = svg.append('text')
        .attr('transform', 'translate(' + xp + ',' + yc + ') rotate(-90)')
        .attr('text-anchor', 'middle')
        .attr('font-size', 27).attr('fill', color);
    let shift = 0;
    parts.forEach(p => {
        const dy = (p[1] || 0) - shift;
        shift = p[1] || 0;
        t.append('tspan').attr('dy', dy).attr('font-size', p[1] ? 20 : 27).text(p[0]);
    });
}

const mid = i => (rows[i] + rows[i + 1]) / 2;
vlabel(43, mid(0), '#262626', [['|B| [nT]']]);
vlabel(43, mid(1), BLUE, [['Azimuth [°]']]);
vlabel(43, mid(2), BLUE, [['Θ'], ['maxV', 8], [' [°]']]);
vlabel(43, mid(3), BLUE, [['λ'], ['max', 8], ['/λ'], ['int', 8]]);
vlabel(43, mid(4), '#262626', [['ΔB/|B|']]);
vlabel(43, mid(5), '#262626', [['N'], ['e', 8], [' [cm'], ['-3', -11], [']']]);
vlabel(2397, mid(1), ORANGE, [['Elevation [°]']]);
vlabel(2397, mid(2), ORANGE, [['Φ'], ['minV', 7], [' [°]']]);
vlabel(2397, mid(3), ORANGE, [['λ'], ['int', 7], ['/λ'], ['min', 7]]);

['(a)', '(b)', '(c)', '(d)', '(e)', '(f)'].forEach((s, i) => {
    svg.append('text').attr('x', 2263).attr('y', rows[i] + 35)
        .attr('text-anchor', 'middle').attr('font-size', 27).attr('fill', '#000').text(s);
});

// legend in panel (a)
const lg = svg.append('g');
lg.append('line').attr('x1', 1045).attr('x2', 1124).attr('y1', 174).attr('y2', 174)
    .attr('stroke', '#000').attr('stroke-width', 3);
lg.append('text').attr('x', 1132).attr('y', 185).attr('font-size', 25).text('|B|');
lg.append('line').attr('x1', 1045).attr('x2', 1124).attr('y1', 213).attr('y2', 213)
    .attr('stroke', YELLOW).attr('stroke-width', 3.5).attr('stroke-dasharray', '17 10');
const bt = lg.append('text').attr('x', 1132).attr('y', 222).attr('font-size', 25);
bt.append('tspan').text('B');
bt.append('tspan').attr('dy', 9).attr('font-size', 19).text('bg');

// labels along the top edge
svg.append('g').selectAll('text').data(topLabels).enter().append('text')
    .attr('x', d => x(at(d[1]))).attr('y', 18)
    .attr('font-size', 17).attr('font-weight', 'bold').attr('fill', '#000')
    .text(d => d[0]);

// stray tick-label fragments beside panel (f)
svg.append('text').attr('x', 131).attr('y', 1248)
    .attr('text-anchor', 'end').attr('font-size', 25).attr('fill', '#262626').text('01:');
svg.append('text').attr('x', 2307).attr('y', 1248)
    .attr('font-size', 25).attr('fill', '#262626').text('18');

svg.append('text').attr('x', (X0 + X1) / 2).attr('y', 1523)
    .attr('text-anchor', 'middle').attr('font-size', 26).attr('fill', '#262626').text('Time [UT]');
svg.append('text').attr('x', 2280).attr('y', 1523)
    .attr('text-anchor', 'end').attr('font-size', 25).attr('fill', '#262626').text('Aug 08, 2009');
const re = svg.append('text').attr('x', 2310).attr('y', 1526)
    .attr('font-size', 18).attr('fill', '#262626');
re.append('tspan').text('[R');
re.append('tspan').attr('dy', 4).attr('font-size', 13).text('E');
re.append('tspan').attr('dy', -4).text(']');
</script>
</body>
</html>
